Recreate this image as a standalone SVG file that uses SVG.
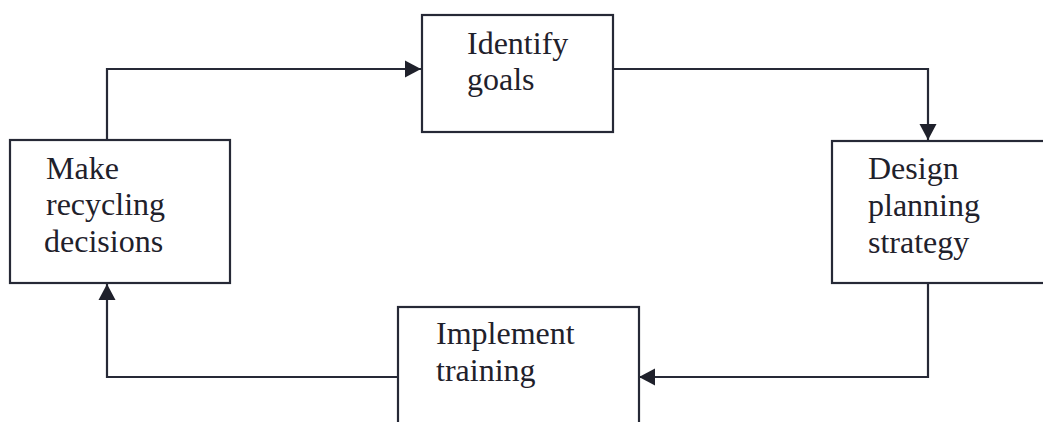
<svg xmlns="http://www.w3.org/2000/svg" width="1043" height="422" viewBox="0 0 1043 422">
  <style>
    .box { fill: #ffffff; stroke: #262936; stroke-width: 2.2; }
    .lbl { font-family: "Liberation Serif", "Times New Roman", serif; font-size: 32px; fill: #1f212b; }
    .link { fill: none; stroke: #262936; stroke-width: 2.2; }
  </style>
  <defs>
    <!-- solid triangular arrowhead shared by all connectors -->
    <marker id="arrow" markerUnits="userSpaceOnUse" markerWidth="18" markerHeight="18" viewBox="0 0 18 18" refX="16" refY="9" orient="auto">
      <path d="M0,0.5 L16,9 L0,17.5 Z" fill="#1f212b"/>
    </marker>
  </defs>
  <rect width="1043" height="422" fill="#ffffff"/>

  <g id="connectors">
    <path class="link" d="M107,140 V69 H421" marker-end="url(#arrow)"/>
    <path class="link" d="M613,69 H928 V140" marker-end="url(#arrow)"/>
    <path class="link" d="M928,283 V377 H639" marker-end="url(#arrow)"/>
    <path class="link" d="M398,377 H107 V284" marker-end="url(#arrow)"/>
  </g>

  <g id="make-decisions">
    <rect class="box" x="10" y="140" width="220" height="143"/>
    <text class="lbl" x="46" y="179">Make</text>
    <text class="lbl" x="46" y="215">recycling</text>
    <text class="lbl" x="44" y="252">decisions</text>
  </g>

  <g id="identify-goals">
    <rect class="box" x="422" y="15" width="191" height="117"/>
    <text class="lbl" x="467" y="54">Identify</text>
    <text class="lbl" x="467" y="90">goals</text>
  </g>

  <g id="design-strategy">
    <rect class="box" x="832" y="141" width="220" height="142"/>
    <text class="lbl" x="868" y="179">Design</text>
    <text class="lbl" x="868" y="216">planning</text>
    <text class="lbl" x="868" y="253">strategy</text>
  </g>

  <g id="implement-training">
    <rect class="box" x="398" y="307" width="241" height="130"/>
    <text class="lbl" x="436" y="344">Implement</text>
    <text class="lbl" x="436" y="381">training</text>
  </g>
</svg>
